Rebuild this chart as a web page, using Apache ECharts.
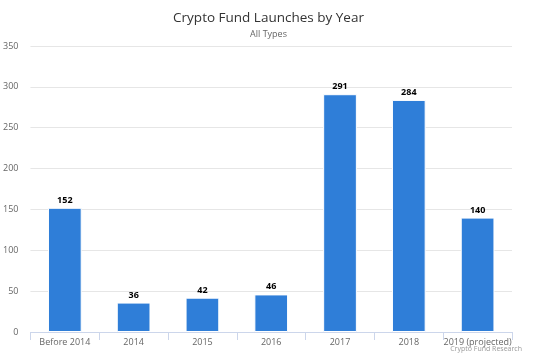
<!DOCTYPE html>
<html><head><meta charset="utf-8">
<script src="https://cdn.jsdelivr.net/npm/echarts@6/dist/echarts.min.js"></script>
<style>html,body{margin:0;padding:0;background:#fff}#c{width:537px;height:356px}</style>
</head><body><div id="c"></div>
<script>
var categories = ['Before 2014','2014','2015','2016','2017','2018','2019 (projected)'];
var launches = [152, 36, 42, 46, 291, 284, 140];
var yTicks = [0, 50, 100, 150, 200, 250, 300, 350];

var chart = echarts.init(document.getElementById('c'));
chart.setOption({
  animation: false,
  title: [
    {text: 'Crypto Fund Launches by Year', left: 'center', top: 6,
     textStyle: {fontFamily: 'Open Sans, DejaVu Sans, sans-serif', fontSize: 13.5, fontWeight: 'normal', color: '#333'}},
    {text: 'All Types', left: 'center', top: 25,
     textStyle: {fontFamily: 'Open Sans, DejaVu Sans, sans-serif', fontSize: 9, fontWeight: 'normal', color: '#666'}},
    {text: 'Crypto Fund Research', right: 10, bottom: -1,
     textStyle: {fontFamily: 'Open Sans, DejaVu Sans, sans-serif', fontSize: 7, fontWeight: 'normal', color: '#999'}}
  ],
  grid: {left: 30, right: 25, top: 46, bottom: 24, containLabel: false},
  xAxis: {
    type: 'category', data: categories,
    axisLine: {lineStyle: {color: '#ccd6eb'}},
    axisTick: {show: true, alignWithLabel: false, length: 8, lineStyle: {color: '#ccd6eb'}},
    axisLabel: {color: '#666', fontSize: 9, fontFamily: 'Open Sans, DejaVu Sans, sans-serif', margin: 6, interval: 0}
  },
  yAxis: {
    type: 'value', min: yTicks[0], max: yTicks[yTicks.length-1], interval: 50,
    axisLine: {show: false}, axisTick: {show: false},
    splitLine: {lineStyle: {color: '#e6e6e6'}},
    axisLabel: {color: '#666', fontSize: 9, fontFamily: 'Open Sans, DejaVu Sans, sans-serif', margin: 12}
  },
  series: [{
    type: 'bar', data: launches, barWidth: '49%',
    itemStyle: {color: '#2f7ed8', borderColor: '#fff', borderWidth: 1},
    label: {show: true, position: 'top', distance: 3, color: '#000', fontWeight: 'bold', fontSize: 9,
            fontFamily: 'Open Sans, DejaVu Sans, sans-serif'}
  }]
});
</script></body></html>
